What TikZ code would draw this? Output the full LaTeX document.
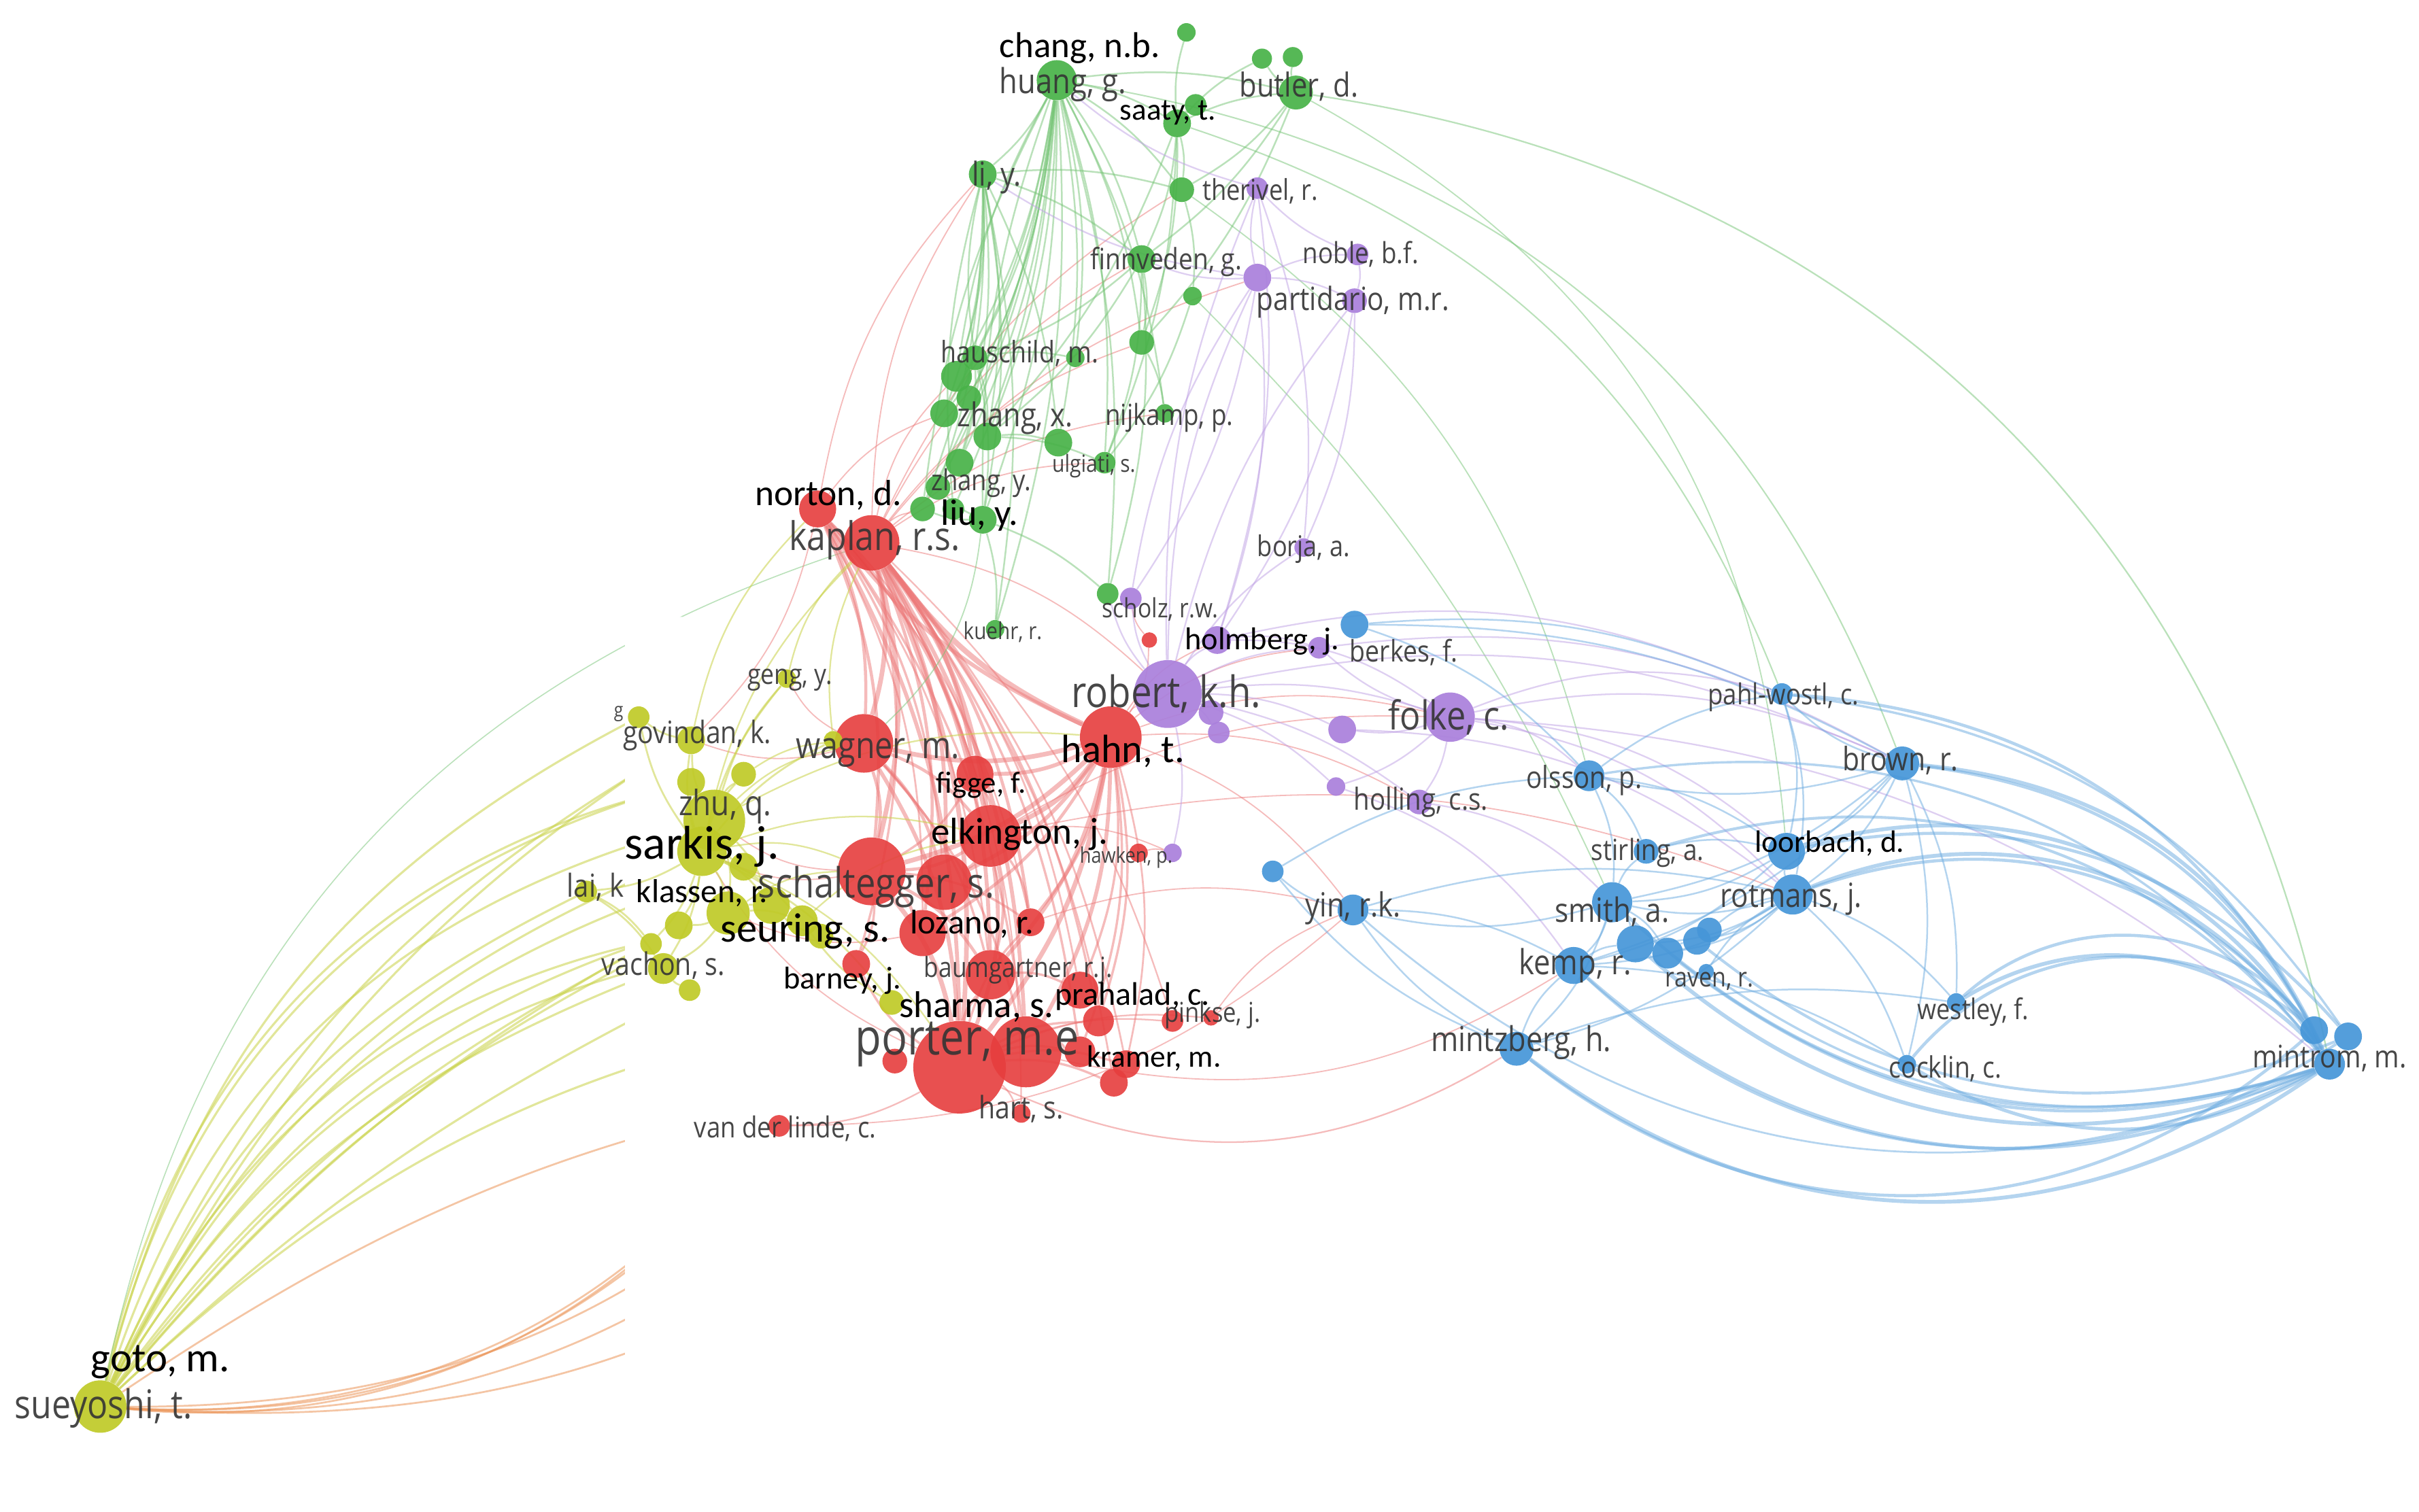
\documentclass[tikz,border=0pt]{standalone}
\usepackage{fontspec}
\usepackage{graphicx}
\newfontfamily\vosf[FakeStretch=0.86]{Open Sans}
\newfontfamily\calf{Carlito}
\usetikzlibrary{backgrounds}
\definecolor{cR}{RGB}{230,62,62}
\definecolor{cG}{RGB}{72,178,72}
\definecolor{cB}{RGB}{70,150,216}
\definecolor{cY}{RGB}{192,202,40}
\definecolor{cP}{RGB}{170,128,220}
\definecolor{cO}{RGB}{236,150,90}
\definecolor{lab}{RGB}{52,52,52}
\newcommand{\gl}[2]{\resizebox{#1pt}{!}{\vosf #2}}
\newcommand{\bl}[2]{\resizebox{#1pt}{!}{\calf #2}}
\begin{document}
\begin{tikzpicture}[x=1pt,y=-1pt,
  nG/.style={circle,inner sep=0pt,minimum size=#1,fill=cG,fill opacity=.92},
  nP/.style={circle,inner sep=0pt,minimum size=#1,fill=cP,fill opacity=.92},
  nR/.style={circle,inner sep=0pt,minimum size=#1,fill=cR,fill opacity=.9},
  nY/.style={circle,inner sep=0pt,minimum size=#1,fill=cY,fill opacity=.92},
  nB/.style={circle,inner sep=0pt,minimum size=#1,fill=cB,fill opacity=.92},
  eR/.style={draw=cR!70,line width=#1,draw opacity=.5},eR/.default=0.9,
  eG/.style={draw=cG!75,line width=#1,draw opacity=.5},eG/.default=0.9,
  eB/.style={draw=cB!80,line width=#1,draw opacity=.5},eB/.default=0.9,
  eY/.style={draw=cY!85,line width=#1,draw opacity=.55},eY/.default=0.9,
  eP/.style={draw=cP!75,line width=#1,draw opacity=.5},eP/.default=0.9,
  eO/.style={draw=cO,line width=#1,draw opacity=.55},eO/.default=0.9,
  glab/.style={text=lab,text opacity=.9,inner sep=0pt},
  blab/.style={text=black,inner sep=0pt}]
\useasboundingbox (0,0) rectangle (1568,980);

% ---------- green nodes
\node[nG=26] (hg) at (685,52) {};
\node[nG=12] (g1) at (769,21) {};
\node[nG=14] (st2) at (775,68) {};
\node[nG=18] (st) at (763,80) {};
\node[nG=13] (bu1) at (818,38) {};
\node[nG=13] (bu2) at (838,37) {};
\node[nG=22] (bu) at (840,60) {};
\node[nG=18] (li) at (637,113) {};
\node[nG=16] (thg) at (766,123) {};
\node[nG=18] (fi) at (740,168) {};
\node[nG=12] (g2) at (773,192) {};
\node[nG=16] (ha) at (632,232) {};
\node[nG=20] (ha2) at (620,244) {};
\node[nG=12] (g3) at (697,232) {};
\node[nG=16] (g4) at (740,222) {};
\node[nG=16] (zx3) at (628,258) {};
\node[nG=18] (zx2) at (612,268) {};
\node[nG=18] (zx) at (640,283) {};
\node[nG=18] (g5) at (686,287) {};
\node[nG=14] (ul) at (716,300) {};
\node[nG=12] (nij) at (755,268) {};
\node[nG=18] (zy) at (622,300) {};
\node[nG=16] (zy2) at (608,316) {};
\node[nG=16] (zy3) at (598,330) {};
\node[nG=14] (zy4) at (618,330) {};
\node[nG=18] (liu) at (637,337) {};
\node[nG=14] (sch) at (718,385) {};
\node[nG=12] (ku) at (645,408) {};
% ---------- purple nodes
\node[nP=14] (thp) at (815,122) {};
\node[nP=14] (nob) at (880,165) {};
\node[nP=18] (pa0) at (815,180) {};
\node[nP=16] (pa) at (878,195) {};
\node[nP=12] (bo) at (845,355) {};
\node[nP=14] (scp) at (733,388) {};
\node[nP=18] (ho) at (789,415) {};
\node[nP=44] (rob) at (757,450) {};
\node[nP=16] (rob2) at (785,462) {};
\node[nP=14] (rob3) at (790,475) {};
\node[nP=14] (be) at (855,420) {};
\node[nP=18] (p1) at (870,473) {};
\node[nP=32] (fo) at (940,465) {};
\node[nP=12] (p2) at (866,510) {};
\node[nP=16] (hol) at (920,520) {};
\node[nP=12] (hk) at (760,553) {};
% ---------- red nodes
\node[nR=24] (no) at (530,330) {};
\node[nR=36] (ka) at (565,352) {};
\node[nR=10] (r1) at (745,415) {};
\node[nR=40] (hah) at (720,478) {};
\node[nR=38] (wa) at (560,482) {};
\node[nR=24] (fg) at (632,502) {};
\node[nR=40] (el) at (642,542) {};
\node[nR=44] (sc) at (565,565) {};
\node[nR=36] (sc2) at (612,572) {};
\node[nR=30] (r2) at (598,605) {};
\node[nR=12] (r3) at (738,553) {};
\node[nR=18] (lo) at (668,598) {};
\node[nR=18] (ba) at (555,625) {};
\node[nR=32] (bg) at (642,632) {};
\node[nR=24] (bg2) at (700,642) {};
\node[nR=20] (r5) at (712,662) {};
\node[nR=18] (r6) at (730,690) {};
\node[nR=14] (r7) at (760,662) {};
\node[nR=10] (pi) at (785,660) {};
\node[nR=60] (po) at (622,692) {};
\node[nR=46] (po2) at (665,682) {};
\node[nR=20] (r8) at (700,682) {};
\node[nR=18] (r9) at (722,702) {};
\node[nR=12] (hart) at (662,722) {};
\node[nR=14] (vdl) at (505,730) {};
\node[nR=16] (r10) at (580,688) {};
% ---------- yellow nodes
\node[nY=12] (ge) at (510,440) {};
\node[nY=12] (y1) at (540,480) {};
\node[nY=14] (y2) at (414,465) {};
\node[nY=18] (gov) at (448,480) {};
\node[nY=18] (y3) at (448,507) {};
\node[nY=16] (y4) at (482,502) {};
\node[nY=40] (zhu) at (463,532) {};
\node[nY=32] (sar) at (455,552) {};
\node[nY=18] (y5) at (482,562) {};
\node[nY=28] (y6) at (472,592) {};
\node[nY=24] (y7) at (500,587) {};
\node[nY=20] (y8) at (520,597) {};
\node[nY=16] (y9) at (532,607) {};
\node[nY=18] (y10) at (440,600) {};
\node[nY=14] (y11) at (422,612) {};
\node[nY=20] (va) at (430,628) {};
\node[nY=14] (y12) at (447,642) {};
\node[nY=14] (lai) at (380,578) {};
\node[nY=16] (sh) at (578,650) {};
\node[nY=34] (su) at (65,912) {};
% ---------- blue nodes
\node[nB=18] (bb) at (878,405) {};
\node[nB=14] (pw) at (1155,450) {};
\node[nB=22] (br) at (1233,495) {};
\node[nB=20] (ol) at (1030,503) {};
\node[nB=14] (b1) at (825,565) {};
\node[nB=20] (yin) at (877,590) {};
\node[nB=16] (sti) at (1067,552) {};
\node[nB=24] (loo) at (1158,552) {};
\node[nB=26] (rot) at (1162,580) {};
\node[nB=26] (sm) at (1045,585) {};
\node[nB=24] (b2) at (1060,612) {};
\node[nB=20] (b3) at (1081,618) {};
\node[nB=18] (b4) at (1100,610) {};
\node[nB=16] (b5) at (1108,603) {};
\node[nB=24] (ke) at (1020,626) {};
\node[nB=10] (ra) at (1106,630) {};
\node[nB=22] (mz) at (983,680) {};
\node[nB=12] (we) at (1268,650) {};
\node[nB=12] (co) at (1236,690) {};
\node[nB=18] (m1) at (1500,668) {};
\node[nB=18] (m2) at (1522,672) {};
\node[nB=20] (mi) at (1510,690) {};

% ---------- connectors
\begin{scope}[on background layer]
\fill[white] (0,0) rectangle (1568,980);
\begin{scope}
\clip (0,0) -- (1568,0) -- (1568,400) -- (405,400) -- (405,938) -- (0,938) -- cycle;
\foreach \b/\t in {sar/20,zhu/28,gov/18,y2/24,lai/20,va/16,y6/12,y7/22,y11/12,y12/8,y10/10,ge/16,y3/30,y8/30,sh/16,y5/22,y4/34,y9/26}
  {\draw[eY=1.4] (su) to[bend left=\t] (\b);}
\draw[eO=1.2] (su) to[bend left=12] (po);
\foreach \b/\t in {vdl/26,ba/34,r10/24,sc/40,bg/30,hart/22}
  {\draw[eO=1.2] (su) to[bend right=\t] (\b);}
\draw[eG=0.7] (su) to[bend left=30] (ka);
\end{scope}
% red
\foreach \a/\b/\w in {ka/wa/3,ka/fg/2.5,ka/el/3,ka/sc/3,ka/sc2/2.5,ka/r2/2,ka/lo/2,ka/bg/2.5,ka/po/3,ka/po2/2.5,ka/ba/1.5,ka/r8/1.5,ka/r5/1.5,no/wa/2,no/el/2,no/sc/2,no/po/2.5,no/sc2/1.5,hah/wa/3,hah/fg/2.5,hah/el/3,hah/sc/3,hah/sc2/2.5,hah/r2/2,hah/lo/2,hah/bg/2.5,hah/po/3,hah/po2/2.5,hah/r5/1.5,hah/r8/1.5,hah/ka/3.5,hah/no/2.5,wa/sc/2,wa/el/2,wa/po/2.5,wa/sc2/2,wa/bg/1.5,el/sc/2,el/po/2.5,el/bg/2,el/lo/1.5,el/sc2/2,sc/po/3,sc/bg/2,sc/lo/1.5,sc/r2/2,sc/ba/1.5,po/bg/2,po/lo/1.5,po/r5/1.5,po/r6/1.5,po/r7/1,po/pi/1,po/hart/1,po/vdl/1,po/r8/1.5,po/r9/1.5,po/ba/1.5,fg/el/1.5,fg/sc/1.5,bg/bg2/1.5,po2/r8/1.5,wa/po2/1.5,ka/bg2/1.2,no/bg/1.2,hah/bg2/1.5,hah/r6/1.2,ka/r6/1.2,ka/r9/1.2,no/r2/1.2,no/lo/1,ka/r7/1,no/fg/1.2,ka/hart/1,no/po2/1.5}
  {\draw[eR=\w] (\a) to[bend left=14] (\b);}
\foreach \a/\b in {ka/li,ka/ha2,ka/zy3,ka/fi,ka/rob,no/zx2,hah/rob,hah/ho,hah/fo,hah/yin,hah/hol,el/fo,el/hk,sc/sar,sc/zhu,wa/gov,po/sar,r1/scp,r3/hk,r2/y6,lo/yin,ka/nij,ka/ul,hah/be,el/rot,ka/thg,r1/hah,pi/yin,no/li,ka/pa0,ka/g4,wa/ge,no/gov}
  {\draw[eR=0.8] (\a) to[bend left=16] (\b);}
\draw[eR=1] (po) to[bend right=28] (mz);
\draw[eR=0.8] (po2) to[bend right=22] (ke);
\draw[eR=0.8] (vdl) to[bend right=20] (yin);
% green
\foreach \a/\b in {hg/li,hg/ha,hg/ha2,hg/zx,hg/zx2,hg/zx3,hg/zy,hg/zy2,hg/zy3,hg/liu,hg/g5,hg/fi,hg/st,hg/bu,hg/thg,hg/g4,hg/ul,hg/nij,hg/g3,li/ha2,li/zx2,li/zy,li/zy3,li/liu,li/fi,li/thg,st/bu,st/bu1,st/thg,st/fi,st/g1,st/st2,bu/thg,bu/fi,bu/bu2,bu/bu1,fi/ha,fi/zx,fi/ul,fi/sch,fi/g4,ha/zx,ha/zx2,ha/zy,ha/liu,ha/g3,liu/zy2,liu/zy3,liu/ku,liu/sch,zx/g5,zx/ul,g4/nij,g2/ul,thg/g2,hg/zy4,li/ku,st/g4,hg/sch,li/zx,li/g5,li/zy2,hg/ku,st/ul,bu/g4,st/zx,hg/zx3}
  {\draw[eG=1.1] (\a) to[bend left=10] (\b);}
\foreach \a/\b in {hg/ha2,hg/zy3,li/zy4,hg/liu,li/ha}
  {\draw[eG=1.1] (\a) to[bend right=10] (\b);}
\draw[eG=1] (bu) to[bend left=35] (mi);
\draw[eG=0.9] (hg) to[bend left=30] (br);
\draw[eG=0.9] (st) to[bend left=25] (pw);
\draw[eG=0.8] (bu) to[bend left=28] (loo);
\draw[eG=0.8] (thg) to[bend left=20] (ol);
\draw[eG=0.8] (g2) to[bend left=10] (sm);
\draw[eG=0.8] (liu) to[bend left=20] (wa);
% purple
\foreach \a/\b in {rob/ho,rob/scp,rob/be,rob/fo,rob/p1,rob/p2,rob/hol,rob/hk,rob/bo,rob/pa0,rob/pa,rob/thp,rob/rob2,rob/rob3,fo/be,fo/hol,fo/p1,fo/p2,pa0/thp,pa0/nob,pa0/pa,pa0/scp,pa0/ho,nob/pa,nob/thp,thp/ho,thp/bo,ho/be,pa/bo,pa0/fi,thp/hg,pa0/li,pa/ho,rob/sch,scp/pa0}
  {\draw[eP=1] (\a) to[bend left=12] (\b);}
\foreach \a/\b in {fo/ol,fo/br,fo/pw,fo/rot,fo/loo,ho/pw,ho/fo,rob/br,hol/sm,p2/ke,be/br,fo/mi,p1/rot}
  {\draw[eP=1] (\a) to[bend left=18] (\b);}
% blue
\foreach \a/\b in {br/pw,br/loo,br/rot,br/sm,br/ke,br/ol,br/co,br/we,rot/loo,rot/sm,rot/ke,rot/b2,rot/b3,rot/b4,rot/mz,rot/we,rot/co,sm/ke,sm/sti,sm/mz,sm/yin,sm/b2,sm/b3,mz/ke,mz/yin,mz/b1,yin/b1,yin/ke,ol/sm,ol/sti,ol/pw,ol/loo,pw/loo,pw/rot,bb/br,bb/pw,loo/sm,loo/ke,ke/b2,b3/b4,b4/b5,b5/rot,yin/rot,bb/ol,b1/ol,mz/we,ke/co,ra/rot,sti/loo}
  {\draw[eB=1.1] (\a) to[bend left=14] (\b);}
\foreach \a/\b/\t/\w in {mz/mi/36/2.5,ke/mi/34/2.2,sm/mi/30/2,b2/mi/32/2.5,b3/mi/28/2,mz/m1/40/2,ke/m2/38/1.8,co/mi/30/2.2,ra/mi/26/1.5,b4/m2/30/1.8,yin/mi/32/1.2}
  {\draw[eB=\w] (\a) to[bend right=\t] (\b);}
\foreach \a/\b/\t/\w in {rot/mi/40/2.5,loo/mi/38/2.5,br/mi/30/2.5,pw/mi/30/2,ol/mi/30/1.5,sti/mi/34/1.8,we/mi/40/2.5,rot/m1/34/2,loo/m2/30/2,br/m1/26/2,we/m1/46/2,pw/m2/24/1.5,co/m1/45/2}
  {\draw[eB=\w] (\a) to[bend left=\t] (\b);}
% yellow
\foreach \a/\b in {sar/zhu,sar/gov,sar/y2,sar/y3,sar/y4,sar/y5,sar/y6,sar/y7,sar/y8,sar/lai,sar/va,sar/y10,sar/y11,sar/ge,sar/y1,sar/sh,zhu/gov,zhu/y3,zhu/y4,zhu/y6,zhu/y7,zhu/ge,y6/y7,y6/y8,y6/va,y6/y10,gov/y2,lai/va,lai/y11,y12/va,y9/y7,sh/y8}
  {\draw[eY=1.2] (\a) to[bend left=12] (\b);}
\foreach \a/\b in {sar/sc,sar/po,sar/el,zhu/wa,y6/sc,sar/ka,ge/ka,y1/ka,zhu/hah,gov/no,y4/wa,y8/el}
  {\draw[eY=1] (\a) to[bend left=16] (\b);}
\end{scope}

% ---------- grey labels
\node[glab] (l01) at (689,55) {\gl{82}{huang, g.}};
\node[glab] (l02) at (842,56) {\gl{77}{butler, d.}};
\node[glab] (l03) at (646,115) {\gl{32}{li, y.}};
\node[glab] (l04) at (817,124) {\gl{75}{therivel, r.}};
\node[glab] (l05) at (756,170) {\gl{98}{finnveden, g.}};
\node[glab] (l06) at (882,165) {\gl{75}{noble, b.f.}};
\node[glab] (l07) at (877,196) {\gl{125}{partidario, m.r.}};
\node[glab] (l08) at (661,229) {\gl{102}{hauschild, m.}};
\node[glab] (l09) at (658,271) {\gl{75}{zhang, x.}};
\node[glab] (l10) at (758,271) {\gl{83}{nijkamp, p.}};
\node[glab] (l11) at (709,302) {\gl{54}{ulgiati, s.}};
\node[glab] (l12) at (636,313) {\gl{65}{zhang, y.}};
\node[glab] (l13) at (567,350) {\gl{111}{kaplan, r.s.}};
\node[glab] (l14) at (845,356) {\gl{60}{borja, a.}};
\node[glab] (l15) at (650,410) {\gl{51}{kuehr, r.}};
\node[glab] (l16) at (752,395) {\gl{75}{scholz, r.w.}};
\node[glab] (l17) at (756,450) {\gl{123}{robert, k.h.}};
\node[glab] (l18) at (910,423) {\gl{70}{berkes, f.}};
\node[glab] (l19) at (939,465) {\gl{78}{folke, c.}};
\node[glab] (l20) at (1156,452) {\gl{98}{pahl-wostl, c.}};
\node[glab] (l21) at (1232,493) {\gl{75}{brown, r.}};
\node[glab] (l22) at (512,441) {\gl{55}{geng, y.}};
\node[glab] (l23) at (452,477) {\gl{96}{govindan, k.}};
\node[glab] (l24) at (401,463) {\gl{6}{g}};
\node[glab] (l25) at (569,488) {\gl{106}{wagner, m.}};
\node[glab] (l26) at (470,523) {\gl{60}{zhu, q.}};
\node[glab] (l27) at (921,520) {\gl{87}{holling, c.s.}};
\node[glab] (l28) at (1027,506) {\gl{75}{olsson, p.}};
\node[glab] (l29) at (568,575) {\gl{153}{schaltegger, s.}};
\node[glab] (l30) at (386,575) {\gl{37}{lai, k}};
\node[glab] (l31) at (1068,553) {\gl{73}{stirling, a.}};
\node[glab] (l32) at (730,556) {\gl{60}{hawken, p.}};
\node[glab] (l33) at (877,589) {\gl{62}{yin, r.k.}};
\node[glab] (l34) at (1045,591) {\gl{74}{smith, a.}};
\node[glab] (l35) at (1161,583) {\gl{92}{rotmans, j.}};
\node[glab] (l36) at (430,626) {\gl{80}{vachon, s.}};
\node[glab] (l37) at (660,629) {\gl{122}{baumgartner, r.j.}};
\node[glab] (l38) at (1021,626) {\gl{73}{kemp, r.}};
\node[glab] (l39) at (1108,636) {\gl{57}{raven, r.}};
\node[glab] (l40) at (786,658) {\gl{62}{pinkse, j.}};
\node[glab] (l41) at (1279,656) {\gl{72}{westley, f.}};
\node[glab] (l42) at (627,677) {\gl{145}{porter, m.e}};
\node[glab] (l43) at (986,676) {\gl{117}{mintzberg, h.}};
\node[glab] (l44) at (1261,693) {\gl{73}{cocklin, c.}};
\node[glab] (l45) at (1510,686) {\gl{100}{mintrom, m.}};
\node[glab] (l46) at (662,719) {\gl{55}{hart, s.}};
\node[glab] (l47) at (509,732) {\gl{118}{van der linde, c.}};
\node[glab] (l48) at (67,913) {\gl{115}{sueyoshi, t.}};
% ---------- black labels
\node[blab] (k01) at (700,31) {\bl{104}{chang, n.b.}};
\node[blab] (k02) at (757,73) {\bl{62}{saaty, t.}};
\node[blab] (k03) at (818,416) {\bl{100}{holmberg, j.}};
\node[blab] (k04) at (728,487) {\bl{80}{hahn, t.}};
\node[blab] (k05) at (635,334) {\bl{50}{liu, y.}};
\node[blab] (k06) at (537,321) {\bl{95}{norton, d.}};
\node[blab] (k07) at (636,509) {\bl{58}{figge, f.}};
\node[blab] (k08) at (661,541) {\bl{115}{elkington, j.}};
\node[blab] (k09) at (455,549) {\bl{100}{sarkis, j.}};
\node[blab] (k10) at (455,579) {\bl{85}{klassen, r.}};
\node[blab] (k11) at (522,604) {\bl{110}{seuring, s.}};
\node[blab] (k12) at (630,599) {\bl{80}{lozano, r.}};
\node[blab] (k13) at (546,636) {\bl{76}{barney, j.}};
\node[blab] (k14) at (633,653) {\bl{100}{sharma, s.}};
\node[blab] (k15) at (734,646) {\bl{100}{prahalad, c.}};
\node[blab] (k16) at (748,686) {\bl{87}{kramer, m.}};
\node[blab] (k17) at (1186,547) {\bl{97}{loorbach, d.}};
\node[blab] (k18) at (104,883) {\bl{90}{goto, m.}};
\end{tikzpicture}
\end{document}
